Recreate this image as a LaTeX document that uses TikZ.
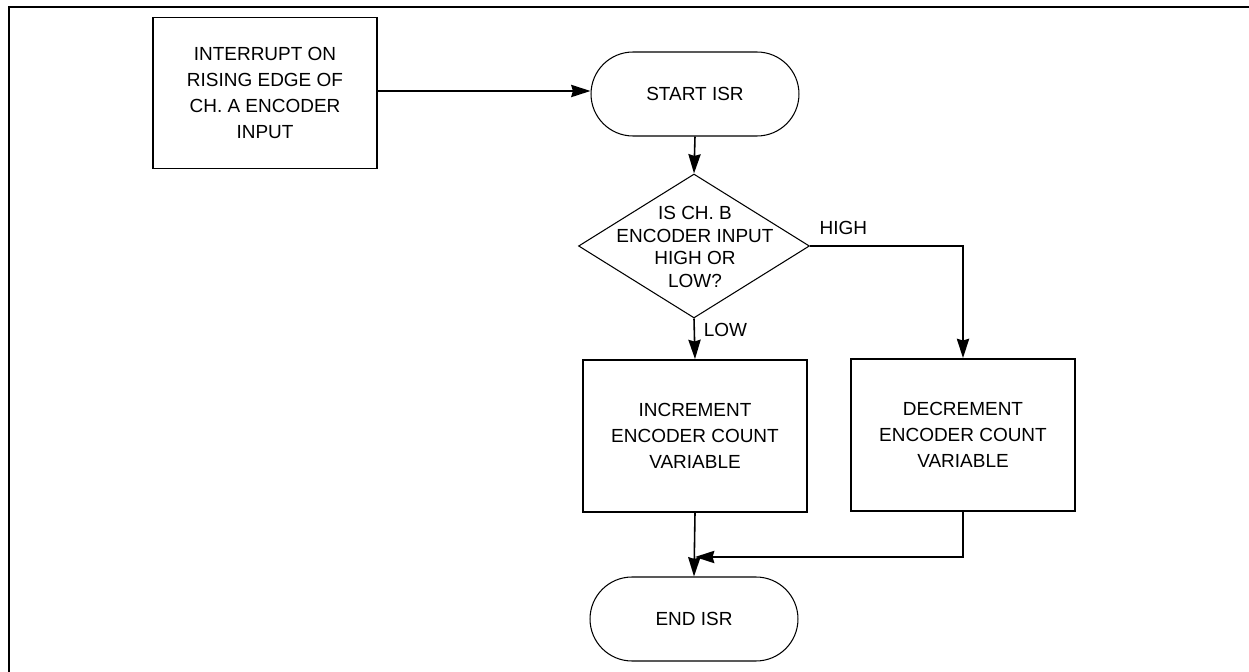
\documentclass[tikz,border=0pt]{standalone}
\usepackage{fontspec}
\setmainfont{Liberation Sans}
\usetikzlibrary{shapes.geometric,shapes.misc,arrows.meta}
\tikzstyle{caja}=[draw,line width=1.1pt,minimum width=4.48cm,minimum height=3.04cm,align=center,inner sep=0pt,font=\fontsize{10.8}{14.7}\selectfont]
\tikzstyle{term}=[draw,rounded rectangle,line width=0.6pt,minimum width=4.16cm,minimum height=1.68cm,inner sep=0pt,font=\fontsize{10.8}{14.7}\selectfont]
\tikzstyle{rombo}=[draw,diamond,line width=0.6pt,minimum width=4.62cm,minimum height=2.88cm,inner sep=0pt]
\tikzstyle{texto}=[align=center,inner sep=0pt,font=\fontsize{10.8}{12.8}\selectfont]
\tikzstyle{flecha}=[line width=0.9pt,-{Stealth[length=11pt,width=7pt,inset=1pt]}]

\begin{document}
\begin{tikzpicture}[x=0.02cm,y=-0.02cm]
    \useasboundingbox (0,0) rectangle (1249,672);
    \draw [line width=1.1pt] (9,680) -- (9,6.7) -- (1260,6.7);
    \node [caja,minimum height=3.02cm] (intr) at (265,93) {INTERRUPT ON\\RISING EDGE OF\\CH. A ENCODER\\INPUT};
    \node [term] (start) at (695,94) {START ISR};
    \node [rombo] (chk) at (694,246) {};
    \node [texto] (chkt) at (695,247) {IS CH. B\\ENCODER INPUT\\HIGH OR\\LOW?};
    \node [caja] (inc) at (695,436) {INCREMENT\\ENCODER COUNT\\VARIABLE};
    \node [caja] (decr) at (963,435) {DECREMENT\\ENCODER COUNT\\VARIABLE};
    \node [term] (end) at (694,619) {END ISR};
    \coordinate (mrg) at (695,557);
    \draw [flecha] (intr.east |- 0,91) -- (start.west |- 0,91);
    \draw [flecha] (start.south) -- (chk.north);
    \draw [flecha] (chk.south) -- node [texto,pos=0.29,anchor=west,xshift=5pt] (lo) {LOW} (inc.north);
    \draw [flecha] (chk.east) node [texto,anchor=south west,xshift=5pt,yshift=6pt] (hi) {HIGH} -| (decr.north);
    \draw [flecha] (inc.south) -- (end.north);
    \draw [flecha] (decr.south) |- (mrg);
\end{tikzpicture}
\end{document}
